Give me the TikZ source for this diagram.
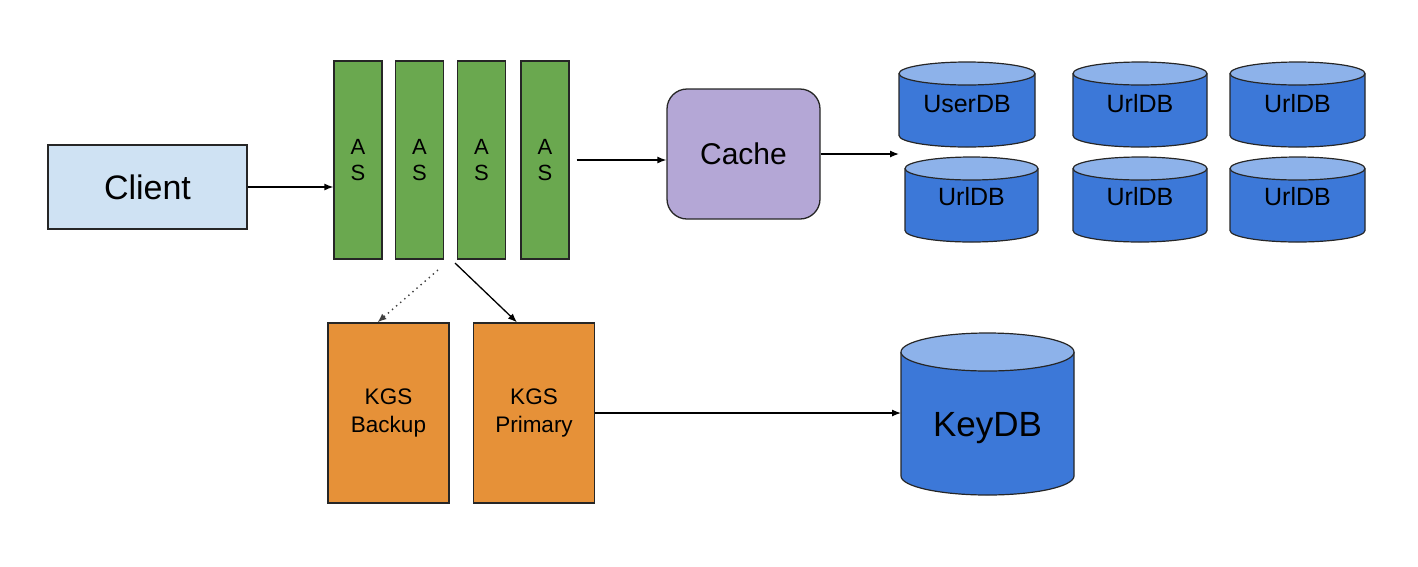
\documentclass[tikz,border=0pt]{standalone}
\usepackage{fontspec}
\setmainfont{Liberation Sans}
\usetikzlibrary{arrows.meta}
\definecolor{clientfill}{HTML}{CFE2F3}
\definecolor{asfill}{HTML}{6AA84F}
\definecolor{cachefill}{HTML}{B4A7D6}
\definecolor{kgsfill}{HTML}{E69138}
\definecolor{dbbodyfill}{HTML}{3C78D8}
\definecolor{dbtopfill}{HTML}{8DB2EA}
\definecolor{edge}{HTML}{262626}
\tikzset{
  box/.style={draw=edge, line width=1.3pt, inner sep=0pt, align=center},
  clientbox/.style={box, fill=clientfill, minimum width=199pt, minimum height=84pt, font=\fontsize{34}{40}\selectfont},
  asbox/.style={box, fill=asfill, minimum width=48pt, minimum height=198pt, font=\fontsize{22}{26}\selectfont},
  cachebox/.style={box, fill=cachefill, rounded corners=20pt, minimum width=153pt, minimum height=130pt, font=\fontsize{30}{36}\selectfont},
  kgsbox/.style={box, fill=kgsfill, minimum width=121pt, minimum height=180pt, font=\fontsize{22.5}{28}\selectfont},
  dbbody/.style={draw=edge, line width=1.2pt, fill=dbbodyfill},
  dbtop/.style={draw=edge, line width=1.2pt, fill=dbtopfill},
  dbtext/.style={inner sep=0pt, anchor=base},
  conn/.style={draw=black, line width=1.3pt, -{Latex[length=9pt,width=7pt]}},
  dotconn/.style={draw=black!75, line width=1.4pt, dash pattern=on 1.4pt off 4pt, -{Latex[length=9pt,width=7pt]}},
}
% #1 name, #2 x1, #3 x2, #4 ytop, #5 ybot, #6 ry, #7 text centre y, #8 font size, #9 text
\newcommand\dbcyl[9]{%
  \filldraw[dbbody] (#2,{#4+#6}) -- (#2,{#5-#6})
    arc[start angle=180,end angle=360,x radius={(#3-#2)/2*1pt},y radius=#6pt]
    -- (#3,{#4+#6});
  \filldraw[dbtop] ({(#2+#3)/2},{#4+#6}) ellipse[x radius={(#3-#2)/2*1pt}, y radius=#6pt];
  \node[dbtext, font=\fontsize{#8}{#8}\selectfont] (#1) at ({(#2+#3)/2},{#7+0.358*#8}) {#9};
  \coordinate (#1w) at (#2,{(#4+#5)/2});
}
\begin{document}
\begin{tikzpicture}[x=1pt,y=-1pt]
\useasboundingbox (0,0) rectangle (1418,566);

\node[clientbox] (client) at (147.5,187) {Client};

\node[asbox] (as1) at (358,160) {A\\S};
\node[asbox] (as2) at (419.5,160) {A\\S};
\node[asbox] (as3) at (481.5,160) {A\\S};
\node[asbox] (as4) at (545,160) {A\\S};

\node[cachebox] (cache) at (743.5,154) {Cache};

\dbcyl{userdb}{899}{1035}{62}{147}{11.5}{104}{25}{UserDB}
\dbcyl{url1}{905}{1038}{157}{242}{11.5}{197}{25}{UrlDB}
\dbcyl{url2}{1073}{1207}{62}{147}{11.5}{104}{25}{UrlDB}
\dbcyl{url3}{1073}{1207}{157}{242}{11.5}{197}{25}{UrlDB}
\dbcyl{url4}{1230}{1365}{62}{147}{11.5}{104}{25}{UrlDB}
\dbcyl{url5}{1230}{1365}{157}{242}{11.5}{197}{25}{UrlDB}

\node[kgsbox] (kgsb) at (388.5,413) {KGS\\Backup};
\node[kgsbox] (kgsp) at (534,413) {KGS\\Primary};

\dbcyl{keydb}{901}{1074}{333}{495}{19}{423.5}{35}{KeyDB}

% connectors
\draw[conn] (client.east) -- (client.east -| as1.west);
\coordinate (asout) at ([xshift=7pt]as4.east);
\draw[conn] (asout) -- (asout -| cache.west);
\draw[conn] (cache.east) -- (cache.east -| userdbw);
\coordinate (dstart) at (438,270);
\draw[dotconn] (dstart) -- ([xshift=-11pt]kgsb.north);
\coordinate (sstart) at (455,263);
\draw[conn] (sstart) -- ([xshift=-17pt]kgsp.north);
\draw[conn] (kgsp.east) -- (kgsp.east -| keydbw);
\end{tikzpicture}
\end{document}
